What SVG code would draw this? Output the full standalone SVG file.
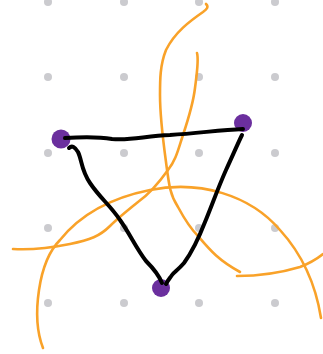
<svg xmlns="http://www.w3.org/2000/svg" width="323" height="354" viewBox="0 0 323 354">
<style>
.grid circle{fill:#cbcbcf}
.o{fill:none;stroke:#f9a229;stroke-width:2.6;stroke-linecap:round;stroke-linejoin:round}
.k{fill:none;stroke:#000;stroke-width:4;stroke-linecap:round;stroke-linejoin:round}
.v{fill:#6b2f9e}
</style>
<rect width="323" height="354" fill="#fff"/>
<g class="grid">
<circle cx="48" cy="2" r="4"/><circle cx="124" cy="2" r="4"/><circle cx="199" cy="2" r="4"/><circle cx="275" cy="2" r="4"/>
<circle cx="48" cy="77" r="4"/><circle cx="124" cy="77" r="4"/><circle cx="199" cy="77" r="4"/><circle cx="275" cy="77" r="4"/>
<circle cx="48" cy="153" r="4"/><circle cx="124" cy="153" r="4"/><circle cx="199" cy="153" r="4"/><circle cx="275" cy="153" r="4"/>
<circle cx="48" cy="228" r="4"/><circle cx="124" cy="228" r="4"/><circle cx="199" cy="228" r="4"/><circle cx="275" cy="228" r="4"/>
<circle cx="48" cy="303" r="4"/><circle cx="124" cy="303" r="4"/><circle cx="199" cy="303" r="4"/><circle cx="275" cy="303" r="4"/>
</g>
<g id="strokes">
<path class="o" d="M206,4 C209,7 207,9 203,12 C190,21 175,32 166,50 C160,65 160,80 160,95 C160,115 163,140 166,162 C169,185 170,195 178,207 C185,220 190,228 198,236 C210,250 218,260 240,272"/>
<path class="o" d="M197,53 C199,60 197,72 195,88 C193,105 188,120 183,135 C178,150 176,160 168,170 C158,184 148,195 138,202 C128,210 118,218 110,226 C100,236 90,240 70,244 C50,248 30,250 13,249"/>
<path class="o" d="M43,348 C36,330 36,310 39,290 C42,270 48,252 60,240 C80,215 110,198 150,190 C200,180 250,195 280,230 C300,252 315,280 321,318"/>
<path class="o" d="M237,276 C260,276 280,273 300,267 C310,263 318,258 323,254"/>
</g>
<g id="node-left"><circle class="v" cx="61" cy="139" r="9.5"/></g>
<g id="node-right"><circle class="v" cx="243" cy="123" r="9"/></g>
<g id="node-bottom"><circle class="v" cx="161" cy="288" r="9"/></g>
<g id="connectors">
<path class="k" d="M65,138 C80,137 95,136 112,139 C130,141 145,136 170,135 C200,133 220,130 243,129"/>
<path class="k" d="M69,148 C72,145 75,147 78,152 C82,160 81,170 90,183 C100,198 110,205 120,220 C130,234 136,248 146,261 C152,267 158,273 162,283"/>
<path class="k" d="M242,135 C238,143 233,155 226,170 C218,188 212,205 205,222 C198,240 192,252 184,263 C178,270 174,272 172,275 C170,278 168,280 166,284"/>
</g>
</svg>
